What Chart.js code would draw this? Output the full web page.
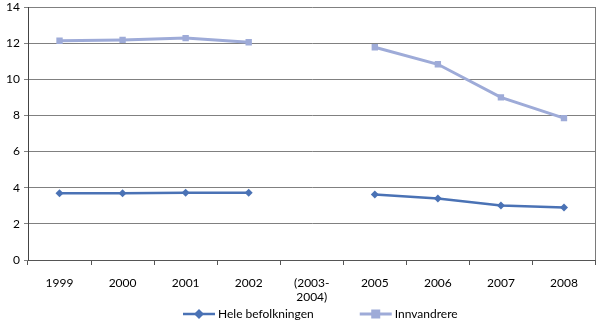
<!DOCTYPE html>
<html><head><meta charset="utf-8">
<script src="https://cdn.jsdelivr.net/npm/chart.js@4/dist/chart.umd.min.js"></script>
<style>html,body{margin:0;padding:0;background:#fff}#wrap{width:600px;height:326px}</style>
</head><body><div id="wrap"><canvas id="c"></canvas></div>
<script>
const categories = ["1999","2000","2001","2002",["(2003-","2004)"],"2005","2006","2007","2008"];
const heleBefolkningen = [3.70, 3.70, 3.72, 3.72, null, 3.63, 3.40, 3.02, 2.90];
const innvandrere = [12.13, 12.18, 12.28, 12.05, null, 11.77, 10.83, 9.00, 7.85];
const yTicks = [0,2,4,6,8,10,12,14];

const C1 = '#4a72b5', C2 = '#9eabd8';
const FONT = 'Lato';

const legendPlugin = {
  id:'customLegend',
  afterDraw(chart){
    const ctx = chart.ctx, cx = chart.width/2, y = chart.height - 12;
    ctx.save();
    ctx.font = '12px ' + FONT;
    ctx.textBaseline = 'middle'; ctx.textAlign = 'left';
    let x = cx - 117;
    chart.data.datasets.forEach((d,i)=>{
      ctx.strokeStyle = d.borderColor; ctx.fillStyle = d.borderColor;
      ctx.lineWidth = d.borderWidth;
      ctx.beginPath(); ctx.moveTo(x, y); ctx.lineTo(x+32, y); ctx.stroke();
      if(d.pointStyle==='rect'){ ctx.fillRect(x+11.5, y-4.5, 9, 9); }
      else { ctx.beginPath(); ctx.moveTo(x+16,y-5); ctx.lineTo(x+21,y); ctx.lineTo(x+16,y+5); ctx.lineTo(x+11,y); ctx.closePath(); ctx.fill(); }
      ctx.fillStyle = '#000';
      ctx.fillText(d.label, x+35, y+0.5);
      x += 35 + ctx.measureText(d.label).width + 46;
    });
    ctx.restore();
  }
};

const borderPlugin = {
  id:'borderPlugin',
  afterDatasetsDraw(chart){
    const a = chart.chartArea, ctx = chart.ctx;
    ctx.save(); ctx.strokeStyle='#7a7a7a'; ctx.lineWidth=1;
    ctx.beginPath(); ctx.moveTo(Math.round(a.right)-0.5, a.top); ctx.lineTo(Math.round(a.right)-0.5, a.bottom); ctx.stroke();
    ctx.restore();
  }
};

new Chart(document.getElementById('c'), {
  type:'line',
  data:{ labels:categories, datasets:[
    { label:'Hele befolkningen', data:heleBefolkningen, borderColor:C1, backgroundColor:C1,
      borderWidth:2.5, pointStyle:'rectRot', pointRadius:4, pointBorderWidth:0, spanGaps:false, tension:0 },
    { label:'Innvandrere', data:innvandrere, borderColor:C2, backgroundColor:C2,
      borderWidth:3, pointStyle:'rect', pointRadius:4.5, pointBorderWidth:0, spanGaps:false, tension:0 }
  ]},
  options:{
    responsive:true, maintainAspectRatio:false, animation:false,
    layout:{ padding:{ left:0, right:2, top:0, bottom:20 } },
    plugins:{ tooltip:{enabled:false}, legend:{display:false} },
    scales:{
      x:{ offset:true,
        grid:{ drawOnChartArea:false, color:'#555', tickLength:5, offset:true },
        border:{ color:'#555' },
        ticks:{ color:'#000', font:{family:FONT,size:12}, padding:11, maxRotation:0, autoSkip:false },
        afterFit(s){ s.height = 46; }
      },
      y:{ min:0, max:14,
        afterBuildTicks(s){ s.ticks = yTicks.map(v=>({value:v})); },
        grid:{ color:'#808080', tickLength:4 },
        border:{ color:'#444' },
        ticks:{ color:'#000', font:{family:FONT,size:12}, padding:4 },
        afterFit(s){ s.width = 28; s.paddingTop = 7; s.paddingBottom = 0; }
      }
    }
  },
  plugins:[borderPlugin, legendPlugin]
});
</script></body></html>
